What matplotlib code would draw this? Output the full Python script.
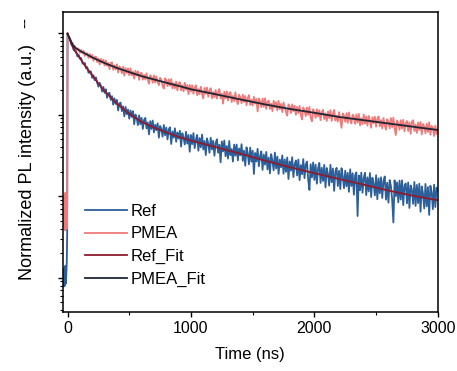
import numpy as np
import matplotlib
matplotlib.use("Agg")
import matplotlib.pyplot as plt

plt.rcParams['font.family'] = ['Liberation Sans', 'DejaVu Sans']

# TRPL decay data, time in ns, normalized intensity
t_pre = [-38, -34, -30, -26, -22, -18, -14, -10, -6, -3]
ref_pre = [0.0009, 0.0013, 0.00078, 0.0012, 0.0008, 0.0014, 0.00085, 0.0011, 0.0016, 0.0035]
pmea_pre = [0.0055, 0.0100, 0.0042, 0.0090, 0.0038, 0.0110, 0.0050, 0.0085, 0.0040, 0.0075]

dt = 10  # ns per channel after excitation
ref = [
    0.977, 0.877, 0.861, 0.724, 0.70, 0.614, 0.631, 0.587, 0.515, 0.537,
    0.482, 0.492, 0.427, 0.415, 0.427, 0.369, 0.380, 0.324, 0.339, 0.335,
    0.282, 0.302, 0.263, 0.285, 0.245, 0.219, 0.245, 0.224, 0.191, 0.218,
    0.184, 0.204, 0.160, 0.182, 0.184, 0.151, 0.168, 0.132, 0.158, 0.135,
    0.151, 0.112, 0.137, 0.140, 0.110, 0.126, 0.0948, 0.124, 0.1007, 0.115,
    0.0889, 0.112, 0.0933, 0.110, 0.0759, 0.100, 0.0912, 0.0741, 0.0977, 0.0759,
    0.0912, 0.0665, 0.0861, 0.0908, 0.0676, 0.080, 0.0570, 0.083, 0.0664, 0.0843,
    0.0603, 0.0748, 0.0643, 0.078, 0.052, 0.0724, 0.0667, 0.0535, 0.0745, 0.0557,
    0.0692, 0.0495, 0.0659, 0.0697, 0.0435, 0.062, 0.0521, 0.0678, 0.0463, 0.0603,
    0.0507, 0.0632, 0.0404, 0.059, 0.0521, 0.0429, 0.0614, 0.044, 0.0561, 0.035,
    0.0562, 0.0433, 0.0592, 0.0387, 0.0494, 0.0562, 0.036, 0.0515, 0.0396, 0.0568,
    0.0372, 0.0474, 0.0318, 0.051, 0.0441, 0.0339, 0.052, 0.0373, 0.0476, 0.0312,
    0.0447, 0.0497, 0.034, 0.0425, 0.0259, 0.0468, 0.0352, 0.0481, 0.0308, 0.0411,
    0.0288, 0.0474, 0.0318, 0.0378, 0.0265, 0.0427, 0.0313, 0.0429, 0.0274, 0.0384,
    0.0316, 0.0433, 0.027, 0.0361, 0.0236, 0.0397, 0.0334, 0.0245, 0.0394, 0.0264,
    0.0361, 0.0187, 0.0338, 0.0266, 0.038, 0.0232, 0.031, 0.0353, 0.021, 0.0323,
    0.0243, 0.0348, 0.0212, 0.0297, 0.019, 0.0327, 0.027, 0.0207, 0.0341, 0.0218,
    0.0305, 0.0187, 0.028, 0.0225, 0.0316, 0.0188, 0.0282, 0.0198, 0.0297, 0.0162,
    0.0266, 0.0205, 0.030, 0.0171, 0.0245, 0.0273, 0.0179, 0.0281, 0.0157, 0.024,
    0.0185, 0.0284, 0.0166, 0.0243, 0.0265, 0.0158, 0.0119, 0.0246, 0.0169, 0.0259,
    0.0158, 0.0243, 0.0142, 0.0219, 0.0255, 0.0145, 0.0223, 0.0153, 0.0241, 0.0128,
    0.0221, 0.0187, 0.0134, 0.0242, 0.0148, 0.0218, 0.0116, 0.020, 0.0222, 0.0133,
    0.0204, 0.0122, 0.022, 0.0174, 0.0125, 0.0205, 0.0132, 0.0193, 0.0113, 0.0213,
    0.0133, 0.0191, 0.0104, 0.018, 0.0195, 0.0057, 0.0179, 0.0118, 0.0194, 0.011,
    0.0166, 0.0193, 0.0103, 0.017, 0.0114, 0.0192, 0.00975, 0.0168, 0.0142, 0.0102,
    0.018, 0.00915, 0.0165, 0.0108, 0.017, 0.0095, 0.0153, 0.0174, 0.00906, 0.0146,
    0.00832, 0.0157, 0.0133, 0.00912, 0.00475, 0.0156, 0.010, 0.0147, 0.00839, 0.0155,
    0.00907, 0.0156, 0.00778, 0.0134, 0.0143, 0.00815, 0.0147, 0.00716, 0.0135, 0.012,
    0.00804, 0.0149, 0.00759, 0.0137, 0.0082, 0.0142, 0.00644, 0.0131, 0.0108, 0.00708,
    0.0141, 0.0075, 0.0129, 0.00589, 0.0134, 0.0111, 0.00693, 0.0138, 0.00735, 0.0127,
    0.0117,
]
pmea = [
    1.0, 0.891, 0.851, 0.741, 0.759, 0.676, 0.692, 0.617, 0.646, 0.638,
    0.569, 0.619, 0.568, 0.604, 0.522, 0.562, 0.565, 0.494, 0.551, 0.493,
    0.537, 0.455, 0.508, 0.512, 0.439, 0.484, 0.41, 0.48, 0.431, 0.47,
    0.398, 0.461, 0.396, 0.429, 0.36, 0.427, 0.436, 0.353, 0.40, 0.356,
    0.412, 0.327, 0.389, 0.367, 0.32, 0.385, 0.299, 0.372, 0.324, 0.367,
    0.302, 0.367, 0.302, 0.335, 0.275, 0.343, 0.302, 0.339, 0.266, 0.32,
    0.324, 0.267, 0.307, 0.268, 0.319, 0.269, 0.238, 0.303, 0.287, 0.245,
    0.302, 0.246, 0.293, 0.25, 0.229, 0.282, 0.267, 0.225, 0.208, 0.278,
    0.263, 0.222, 0.27, 0.225, 0.272, 0.209, 0.243, 0.21, 0.253, 0.197,
    0.24, 0.249, 0.198, 0.228, 0.192, 0.245, 0.202, 0.23, 0.177, 0.231,
    0.191, 0.228, 0.179, 0.214, 0.228, 0.172, 0.205, 0.177, 0.219, 0.179,
    0.158, 0.212, 0.179, 0.214, 0.165, 0.197, 0.21, 0.158, 0.189, 0.163,
    0.20, 0.157, 0.188, 0.205, 0.158, 0.18, 0.136, 0.19, 0.157, 0.192,
    0.148, 0.181, 0.188, 0.142, 0.169, 0.146, 0.187, 0.148, 0.134, 0.175,
    0.162, 0.137, 0.175, 0.142, 0.169, 0.13, 0.159, 0.173, 0.131, 0.152,
    0.129, 0.165, 0.136, 0.155, 0.109, 0.157, 0.145, 0.123, 0.157, 0.124,
    0.158, 0.117, 0.143, 0.148, 0.117, 0.136, 0.11, 0.148, 0.122, 0.142,
    0.112, 0.147, 0.116, 0.135, 0.107, 0.14, 0.124, 0.107, 0.0968, 0.133,
    0.126, 0.104, 0.133, 0.11, 0.128, 0.0989, 0.124, 0.104, 0.128, 0.0984,
    0.0871, 0.122, 0.113, 0.0957, 0.122, 0.0989, 0.124, 0.091, 0.0824, 0.116,
    0.107, 0.0908, 0.116, 0.0942, 0.113, 0.0851, 0.107, 0.114, 0.0879, 0.103,
    0.0832, 0.109, 0.0904, 0.113, 0.0836, 0.102, 0.114, 0.0843, 0.0964, 0.0817,
    0.107, 0.0867, 0.0686, 0.103, 0.0959, 0.0813, 0.104, 0.0787, 0.106, 0.0855,
    0.0776, 0.0995, 0.0946, 0.0766, 0.10, 0.0794, 0.102, 0.0735, 0.0899, 0.0762,
    0.10, 0.0773, 0.0946, 0.0731, 0.0959, 0.0851, 0.0689, 0.0925, 0.0783, 0.0938,
    0.0708, 0.0887, 0.0946, 0.0715, 0.0855, 0.0676, 0.0908, 0.0735, 0.0652, 0.0875,
    0.0813, 0.0673, 0.0904, 0.0698, 0.0916, 0.0676, 0.056, 0.0843, 0.0783, 0.0649,
    0.0851, 0.0673, 0.0863, 0.0622, 0.078, 0.0832, 0.0628, 0.0805, 0.0581, 0.0817,
    0.0851, 0.0628, 0.0752, 0.0594, 0.0798, 0.0646, 0.0809, 0.057, 0.0766, 0.0711,
    0.0589, 0.0773, 0.0611, 0.0802, 0.0565, 0.0724, 0.0689, 0.0545, 0.0731, 0.0578,
    0.0661,
]

# fitted curves
t_fit = [0, 20, 40, 60, 80, 100, 150, 200, 250, 300, 400, 500, 600, 700, 800,
         900, 1000, 1200, 1400, 1600, 1800, 2000, 2200, 2400, 2600, 2800, 3000]
ref_fit = [0.98, 0.822, 0.684, 0.60, 0.545, 0.493, 0.380, 0.302, 0.241, 0.193,
           0.136, 0.102, 0.0813, 0.0692, 0.0603, 0.0531, 0.0479, 0.0398, 0.0331,
           0.0272, 0.0226, 0.0191, 0.0162, 0.0138, 0.0117, 0.0101, 0.0089]
pmea_fit = [0.977, 0.832, 0.724, 0.661, 0.631, 0.603, 0.550, 0.501, 0.462, 0.427,
            0.372, 0.331, 0.295, 0.269, 0.245, 0.224, 0.204, 0.177, 0.153, 0.133,
            0.117, 0.105, 0.0933, 0.0851, 0.0776, 0.0708, 0.0646]

t_main = np.arange(len(ref)) * dt
t_all = np.concatenate([t_pre, t_main])
ref_all = np.concatenate([ref_pre, ref])
pmea_all = np.concatenate([pmea_pre, pmea[:len(ref)]])

fig = plt.figure(figsize=(4.57, 3.71), dpi=100)
ax = fig.add_axes([0.137, 0.159, 0.821, 0.809])

ax.plot(t_all, ref_all, color='#2c5f9a', lw=1.3, label='Ref')
ax.plot(t_all, pmea_all, color='#f07a7a', lw=1.3, label='PMEA')
ax.plot(t_fit, ref_fit, color='#8b1c2e', lw=1.3, label='Ref_Fit')
ax.plot(t_fit, pmea_fit, color='#1e2535', lw=1.3, label='PMEA_Fit')

ax.set_yscale('log')
ax.set_xlim(-40, 3000)
ax.set_ylim(3.8e-4, 1.81)
ax.set_xticks([0, 1000, 2000, 3000])
ax.set_xticks([500, 1500, 2500], minor=True)
ax.yaxis.set_major_locator(matplotlib.ticker.LogLocator(base=10, numticks=10))
ax.yaxis.set_minor_locator(matplotlib.ticker.LogLocator(base=10, subs=np.arange(2, 10), numticks=20))
ax.tick_params(axis='y', which='both', labelleft=False)
ax.tick_params(which='major', direction='out', length=3.6, width=1.0, labelsize=11.5, pad=3)
ax.tick_params(which='minor', direction='out', length=2.0, width=0.8)
for s in ax.spines.values():
    s.set_linewidth(1.1)

ax.set_xlabel('Time (ns)', fontsize=12, labelpad=8)
ax.set_ylabel('Normalized PL intensity (a.u.)', fontsize=13)
ax.yaxis.set_label_coords(-0.07, 0.5)
fig.text(0.057, 0.94, '--', rotation=90, fontsize=12, ha='center', va='center')

ax.legend(loc='upper left', bbox_to_anchor=(0.06, 0.36), frameon=False, fontsize=12,
          handlelength=2.5, handletextpad=0.25, labelspacing=0.45, borderpad=0,
          borderaxespad=0)

fig.savefig('out.png', dpi=100)
